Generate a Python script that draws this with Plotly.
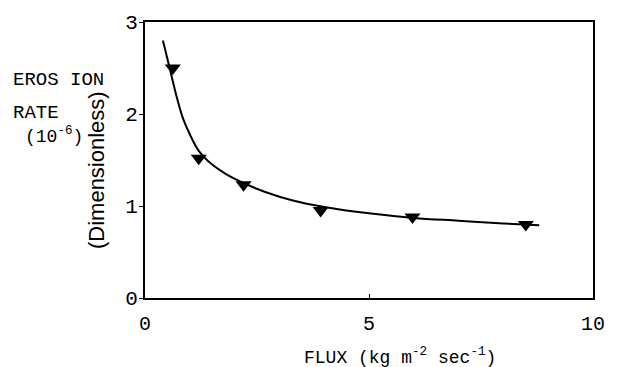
import plotly.graph_objects as go

# Measured points
flux_pts = [0.62, 1.2, 2.2, 3.92, 5.97, 8.5]
rate_pts = [2.5, 1.52, 1.23, 0.95, 0.88, 0.80]

# Fitted curve
flux_curve = [0.4, 0.55, 0.7, 0.85, 1.0, 1.2, 1.5, 1.8, 2.2, 2.7, 3.3, 4.0, 5.0, 6.0, 7.0, 8.0, 8.8]
rate_curve = [2.8, 2.5, 2.2, 1.95, 1.78, 1.6, 1.45, 1.35, 1.25, 1.15, 1.06, 0.99, 0.92, 0.87, 0.84, 0.81, 0.79]

x_ticks = [0, 5, 10]
y_ticks = [0, 1, 2, 3]
y_tick_text = ["0", "1", "2", "3"]

mono = "Liberation Mono, DejaVu Sans Mono, monospace"
sans = "Liberation Sans, Arial, sans-serif"

L, R, T, B = 145, 13, 18, 69
W, H = 617, 367
pw, ph = W - L - R, H - T - B


def px(x):
    return (x - L) / pw


def py(y):
    return (H - B - y) / ph


fig = go.Figure()
fig.add_trace(go.Scatter(x=flux_curve, y=rate_curve, mode="lines",
                         line=dict(color="black", width=2, shape="spline", smoothing=1.0),
                         showlegend=False, hoverinfo="skip"))
fig.add_trace(go.Scatter(x=flux_pts, y=rate_pts, mode="markers",
                         marker=dict(symbol="triangle-down", size=14, color="black"),
                         showlegend=False))

fig.update_layout(
    width=W, height=H,
    margin=dict(l=L, r=R, t=T, b=B),
    plot_bgcolor="white", paper_bgcolor="white",
    font=dict(family=mono, size=17, color="black"),
    xaxis=dict(range=[0, 10], tickvals=x_ticks, showgrid=False, zeroline=False,
               showline=True, linecolor="black", linewidth=2, mirror=True,
               ticks="inside", ticklen=4, tickcolor="black",
               ticklabelstandoff=6, tickfont=dict(size=20)),
    yaxis=dict(range=[0, 3], tickvals=y_ticks, ticktext=y_tick_text, showgrid=False,
               zeroline=False, showline=True, linecolor="black", linewidth=2, mirror=True,
               ticks="outside", ticklen=4, tickcolor="black",
               ticklabelstandoff=-3, tickfont=dict(size=21)),
)

fig.add_annotation(x=px(406), xref="paper", y=py(357), yref="paper",
                   text="FLUX (kg m<sup>-2</sup> sec<sup>-1</sup>)", showarrow=False,
                   font=dict(size=18), xanchor="center", yanchor="middle")
fig.add_annotation(x=px(8), xref="paper", y=py(77), yref="paper", text="EROS ION",
                   showarrow=False, xanchor="left", yanchor="middle", font=dict(size=19))
fig.add_annotation(x=px(8), xref="paper", y=py(110), yref="paper", text="RATE",
                   showarrow=False, xanchor="left", yanchor="middle", font=dict(size=19))
fig.add_annotation(x=px(20), xref="paper", y=py(133), yref="paper", text="(10<sup>-6</sup>)",
                   showarrow=False, xanchor="left", yanchor="middle", font=dict(size=18))
fig.add_annotation(x=px(96), xref="paper", y=py(168), yref="paper", text="(Dimensionless)",
                   showarrow=False, textangle=-90, xanchor="center", yanchor="middle",
                   font=dict(size=22, family=sans))

post = "document.body.style.margin='0';"
fig.write_html("out.html", config={"displayModeBar": False}, post_script=post)
